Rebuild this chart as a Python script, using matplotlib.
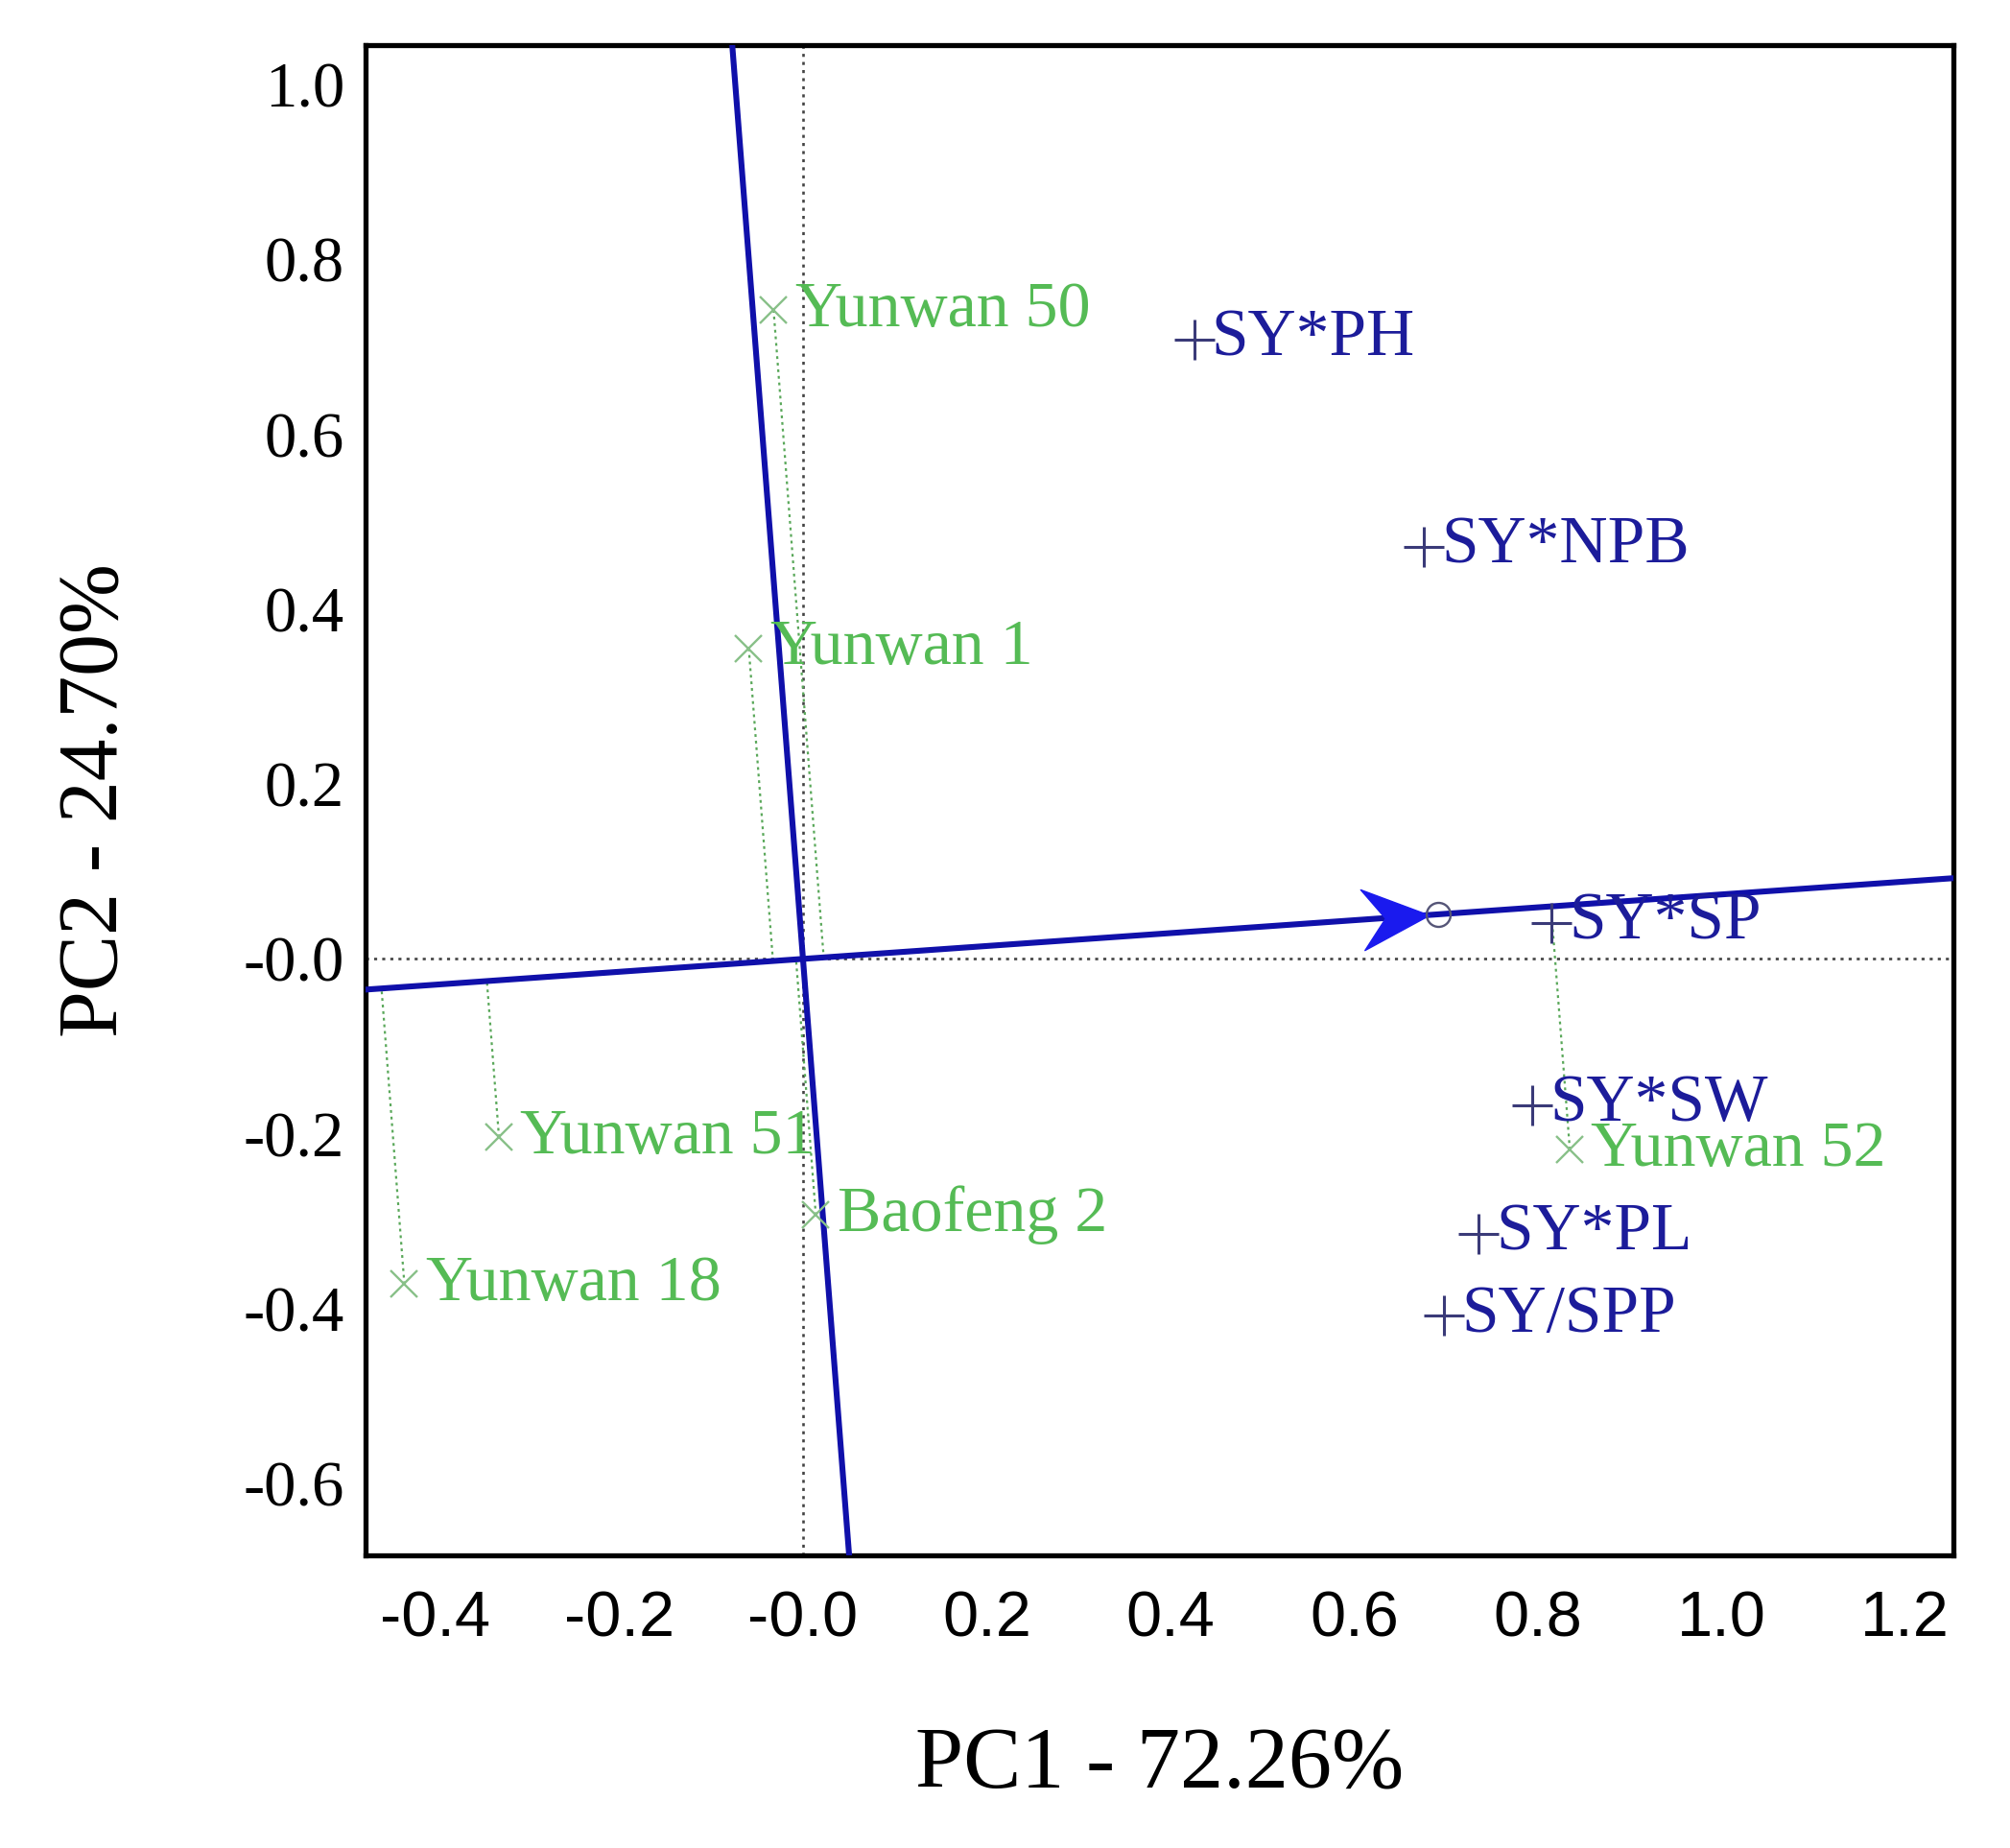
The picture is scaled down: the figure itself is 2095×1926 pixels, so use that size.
import numpy as np
import matplotlib
matplotlib.use('Agg')
import matplotlib.pyplot as plt
from matplotlib.path import Path
from matplotlib.markers import MarkerStyle
from matplotlib.transforms import Affine2D

# genotype scores (green)
genotypes = ['Yunwan 50', 'Yunwan 1', 'Yunwan 51', 'Baofeng 2', 'Yunwan 18', 'Yunwan 52']
geno_x = [-0.032, -0.059, -0.331, 0.014, -0.434, 0.835]
geno_y = [0.742, 0.355, -0.204, -0.293, -0.372, -0.218]

# trait combination scores (blue)
traits = ['SY*PH', 'SY*NPB', 'SY*SP', 'SY*SW', 'SY*PL', 'SY/SPP']
trait_x = [0.426, 0.676, 0.815, 0.794, 0.736, 0.698]
trait_y = [0.708, 0.471, 0.041, -0.167, -0.314, -0.408]

# average tester coordinate
atc_mean = (0.692, 0.051)

xticks = [-0.4, -0.2, 0.0, 0.2, 0.4, 0.6, 0.8, 1.0, 1.2]
yticks = [-0.6, -0.4, -0.2, 0.0, 0.2, 0.4, 0.6, 0.8, 1.0]
xlim = (-0.476, 1.253)
ylim = (-0.682, 1.045)

serif = 'Liberation Serif'
sans = 'Liberation Sans'
green_txt = '#55bb55'
green_mk = '#88c088'
navy = '#1c1c9a'
line_blue = '#1010aa'

fig = plt.figure(figsize=(20.95, 19.26), dpi=100)
ax = fig.add_axes([0.182, 0.1584, 0.972 - 0.182, 0.9756 - 0.1584])
ax.set_xlim(*xlim)
ax.set_ylim(*ylim)

# reference axes through origin
ax.axhline(0, color='#444444', lw=1.9, ls=(0, (1.2, 2.0)), zorder=1)
ax.axvline(0, color='#444444', lw=1.9, ls=(0, (1.2, 2.0)), zorder=1)

# ATC abscissa and ordinate
mx, my = atc_mean
slope = my / mx
xs = np.array(xlim)
ax.plot(xs, slope * xs, color=line_blue, lw=4.4, zorder=3)
ys = np.array(ylim)
ax.plot(-slope * ys, ys, color=line_blue, lw=4.4, zorder=3)

# projections of genotypes onto ATC abscissa
d = np.array([mx, my]) / np.hypot(mx, my)
for gx, gy in zip(geno_x, geno_y):
    t = gx * d[0] + gy * d[1]
    ax.plot([gx, t * d[0]], [gy, t * d[1]], color='#5aa85a', lw=1.6,
            ls=(0, (1.3, 1.8)), zorder=2)

# arrow head at mean environment
p0 = ax.transData.transform((0, 0))
p1 = ax.transData.transform(atc_mean)
ang = np.degrees(np.arctan2(p1[1] - p0[1], p1[0] - p0[0]))
head = Path([(-0.12, 0), (-1.0, 0.40), (-0.70, 0), (-1.0, -0.40), (-0.12, 0)],
            [Path.MOVETO, Path.LINETO, Path.LINETO, Path.LINETO, Path.CLOSEPOLY])
ms = MarkerStyle(head, transform=Affine2D().rotate_deg(ang))
ax.plot([mx], [my], marker=ms, markersize=114, color='#1a1aee', mec='#1a1aee', zorder=4)
ax.plot([mx], [my], marker='o', markersize=18, mfc='none', mec='#555577', mew=1.7, zorder=5)

# genotypes
ax.plot(geno_x, geno_y, ls='none', marker='x', markersize=20, mew=1.7, color=green_mk, zorder=6)
for name, gx, gy in zip(genotypes, geno_x, geno_y):
    ax.annotate(name, (gx, gy), xytext=(16, 0), textcoords='offset points',
                ha='left', va='center', fontsize=49, family=serif, color=green_txt, zorder=7)

# traits
ax.plot(trait_x, trait_y, ls='none', marker='+', markersize=30, mew=2.2, color='#3a3a78', zorder=6)
for name, tx, ty in zip(traits, trait_x, trait_y):
    ax.annotate(name, (tx, ty), xytext=(13, 0), textcoords='offset points',
                ha='left', va='center', fontsize=50, family=serif, color=navy, zorder=7)

ax.set_xticks(xticks)
ax.set_xticklabels(['-0.0' if v == 0 else f'{v:.1f}' for v in xticks],
                   fontsize=48, family=sans)
ax.set_yticks(yticks)
ax.set_yticklabels(['-0.0' if v == 0 else f'{v:.1f}' for v in yticks],
                   fontsize=48, family=serif)
ax.tick_params(axis='both', length=0)
ax.tick_params(axis='x', pad=26)
ax.tick_params(axis='y', pad=16)
for s in ax.spines.values():
    s.set_linewidth(3.8)
    s.set_color('black')

fig.text(0.577, 0.044, 'PC1 - 72.26%', ha='center', va='center', fontsize=65, family=serif)
fig.text(0.048, 0.567, 'PC2 - 24.70%', ha='center', va='center', rotation=90,
         fontsize=63, family=serif)

fig.savefig('out.png', dpi=100)
